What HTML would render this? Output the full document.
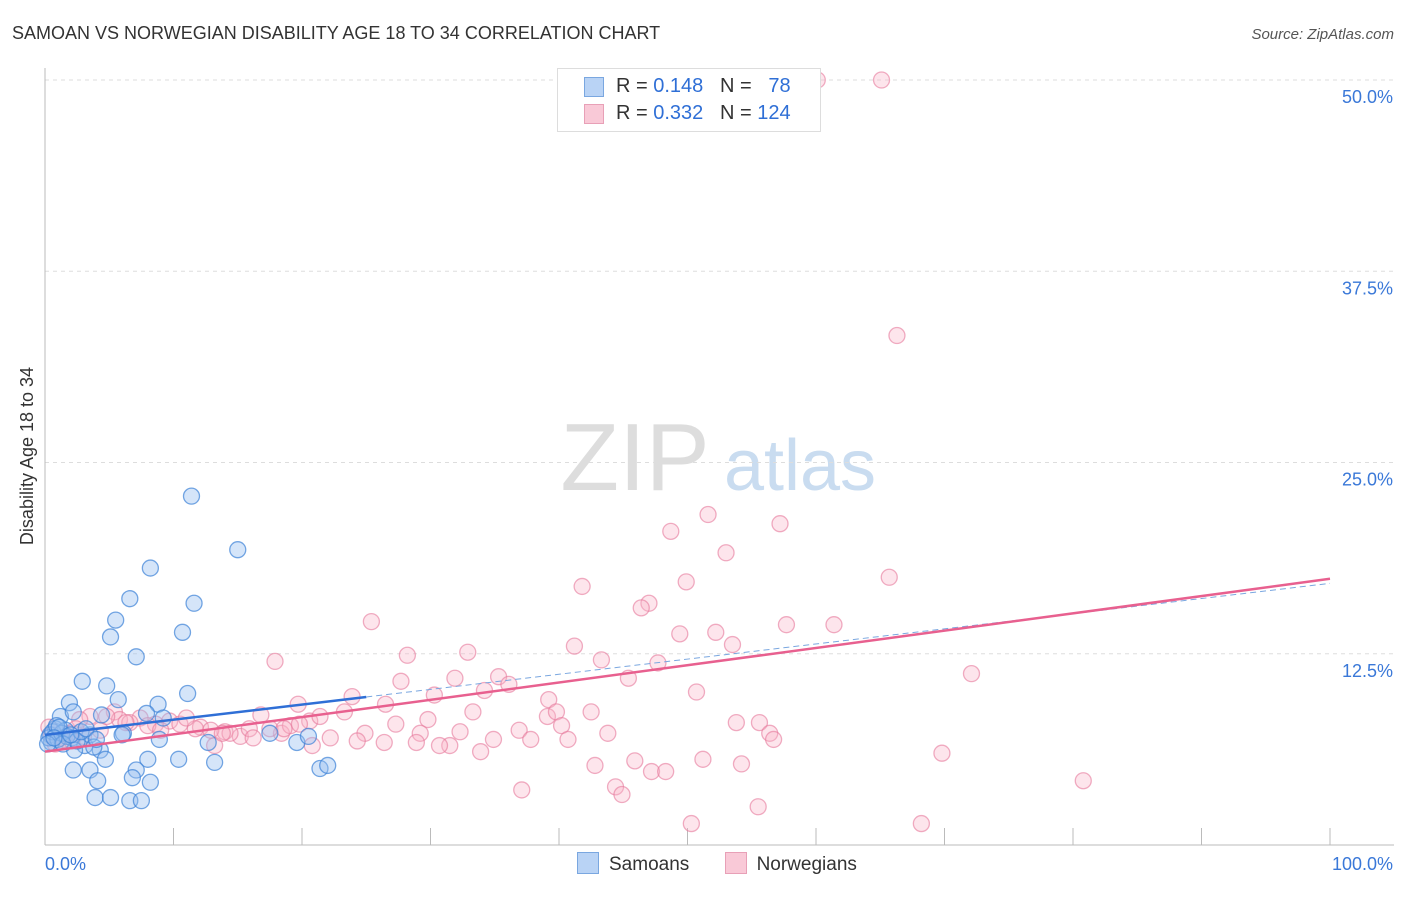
<!DOCTYPE html>
<html><head><meta charset="utf-8"><style>
body{margin:0;background:#fff;font-family:"Liberation Sans",sans-serif}
svg text{font-family:"Liberation Sans",sans-serif}
</style></head><body>
<svg id="c" width="1406" height="892" xmlns="http://www.w3.org/2000/svg"></svg>
<script>
const yTicks=[12.5,25,37.5,50];
const yTickLabels=["12.5%","25.0%","37.5%","50.0%"];
const samoanX=[11.4,15.0,8.2,6.6,11.6,5.5,5.1,10.7,7.1,2.9,4.8,11.1,1.9,5.7,8.8,1.2,2.2,4.4,7.9,9.2,6.1,8.9,12.7,17.5,19.6,20.5,0.8,0.4,0.5,1.6,2.1,3.1,3.5,4.3,2.3,4.7,8.0,10.4,13.2,2.2,3.5,4.1,7.1,6.8,8.2,21.4,22.0,3.9,5.1,6.6,7.5,0.3,0.6,1.0,1.3,1.7,2.5,2.8,0.2,0.9,1.4,3.8,3.2,4.0,6.0,1.1,2.0,0.7];
const samoanY=[22.8,19.3,18.1,16.1,15.8,14.7,13.6,13.9,12.3,10.7,10.4,9.9,9.3,9.5,9.2,8.4,8.7,8.5,8.6,8.3,7.3,6.9,6.7,7.3,6.7,7.1,7.6,7.2,6.7,7.5,7.0,6.5,7.2,6.2,6.2,5.6,5.6,5.6,5.4,4.9,4.9,4.2,4.9,4.4,4.1,5.0,5.2,3.1,3.1,2.9,2.9,7.0,7.4,6.9,7.3,7.1,6.8,7.4,6.6,7.8,6.6,6.4,7.6,6.9,7.2,7.7,7.2,7.0];
const norwX=[60.1,65.1,66.3,51.6,48.7,57.2,53.0,65.7,49.9,41.8,47.0,46.4,25.4,57.7,61.4,49.4,52.2,53.5,41.2,32.9,28.2,43.3,47.7,17.9,72.1,35.3,45.4,27.7,31.9,36.1,34.2,50.7,30.3,23.9,39.2,19.7,26.5,33.3,39.1,42.5,39.8,23.3,16.8,29.8,53.8,55.6,27.3,40.2,36.9,32.3,56.4,43.8,56.7,40.7,34.9,37.8,29.2,24.9,26.4,24.3,22.2,20.8,31.5,30.7,28.9,13.2,33.9,69.8,45.9,51.2,54.2,42.8,47.2,48.3,80.8,37.1,44.4,44.9,55.5,50.3,68.2,5.4,3.5,2.7,5.8,7.4,9.7,10.5,12.1,14.0,15.2,15.9,18.4,19.1,20.6,21.4,1.2,1.9,0.8,4.3,6.6,8.6,11.7,14.4,17.5,19.8,0.5,1.5,2.4,3.0,4.8,6.3,8.0,9.0,11.0,12.9,13.8,16.2,18.6,0.3,2.1];
const norwY=[50.0,50.0,33.3,21.6,20.5,21.0,19.1,17.5,17.2,16.9,15.8,15.5,14.6,14.4,14.4,13.8,13.9,13.1,13.0,12.6,12.4,12.1,11.9,12.0,11.2,11.0,10.9,10.7,10.9,10.5,10.1,10.0,9.8,9.7,9.5,9.2,9.2,8.7,8.4,8.7,8.7,8.7,8.5,8.2,8.0,8.0,7.9,7.8,7.5,7.4,7.3,7.3,6.9,6.9,6.9,6.9,7.3,7.3,6.7,6.8,7.0,6.5,6.5,6.5,6.7,6.5,6.1,6.0,5.5,5.6,5.3,5.2,4.8,4.8,4.2,3.6,3.8,3.3,2.5,1.4,1.4,8.7,8.4,8.2,8.2,8.3,8.1,7.9,7.7,7.4,7.1,7.6,7.3,7.8,8.1,8.4,7.0,7.3,6.6,7.5,8.0,7.9,7.6,7.3,7.6,7.9,7.2,6.9,7.6,7.1,8.4,8.0,7.8,7.5,8.3,7.5,7.3,7.0,7.6,7.7,6.8];
const blueFit=[7.2,17.1], pinkFit=[6.1,17.4];
const NS="http://www.w3.org/2000/svg", svg=document.getElementById('c');
const X=v=>45+v*12.85, Y=v=>845-v*15.3;
function el(t,a,p){const e=document.createElementNS(NS,t);for(const k in a)e.setAttribute(k,a[k]);(p||svg).appendChild(e);return e;}
let t=el('text',{x:12,y:39,'font-size':18,fill:'#333'});t.textContent='SAMOAN VS NORWEGIAN DISABILITY AGE 18 TO 34 CORRELATION CHART';


t=el('text',{x:1394,y:39,'font-size':15,fill:'#555','text-anchor':'end','font-style':'italic'});t.textContent='Source: ZipAtlas.com';


t=el('text',{x:635,y:490,'font-size':96,fill:'#ddd','text-anchor':'middle','font-family':'Liberation Serif'});t.textContent='ZIP';


t=el('text',{x:800,y:490,'font-size':72,fill:'#c9dcf0','text-anchor':'middle'});t.textContent='atlas';


yTicks.forEach((v,i)=>{let g=el('line',{x1:45,x2:1394,y1:Y(v),y2:Y(v),stroke:'#ddd','stroke-dasharray':'4,4'});


let l=el('text',{x:1393,y:Y(v)+23,'font-size':18,fill:'#3a78d8','text-anchor':'end'});l.textContent=yTickLabels[i];

});
let ax=el('line',{x1:45,x2:45,y1:68,y2:845,stroke:'#bbb'});


ax=el('line',{x1:45,x2:1394,y1:845,y2:845,stroke:'#bbb'});


for(let i=1;i<=10;i++){let k=el('line',{x1:X(i*10),x2:X(i*10),y1:828,y2:845,stroke:'#bbb'});

}
t=el('text',{x:45,y:870,'font-size':18,fill:'#3a78d8'});t.textContent='0.0%';


t=el('text',{x:1393,y:870,'font-size':18,fill:'#3a78d8','text-anchor':'end'});t.textContent='100.0%';


t=el('text',{x:0,y:0,'font-size':18,fill:'#333','text-anchor':'middle',transform:'translate(33,456) rotate(-90)'});t.textContent='Disability Age 18 to 34';


norwX.forEach((x,i)=>{let c=el('circle',{cx:X(x),cy:Y(norwY[i]),r:8,fill:'rgba(248,180,200,0.35)',stroke:'rgba(230,120,155,0.6)','stroke-width':1.3});

});
samoanX.forEach((x,i)=>{let c=el('circle',{cx:X(x),cy:Y(samoanY[i]),r:8,fill:'rgba(150,190,240,0.4)',stroke:'rgba(60,130,215,0.7)','stroke-width':1.3});

});
let f=el('line',{x1:X(25),y1:Y(blueFit[0]+(blueFit[1]-blueFit[0])*0.25),x2:X(100),y2:Y(blueFit[1]),stroke:'#7aa7e0','stroke-width':1,'stroke-dasharray':'6,4'});


f=el('line',{x1:X(0),y1:Y(pinkFit[0]),x2:X(100),y2:Y(pinkFit[1]),stroke:'#e8608f','stroke-width':2.5});


f=el('line',{x1:X(0),y1:Y(blueFit[0]),x2:X(25),y2:Y(blueFit[0]+(blueFit[1]-blueFit[0])*0.25),stroke:'#2f6fd6','stroke-width':2.5});


</script>
<div style="position:absolute;left:557px;top:68px;width:262px;height:62px;border:1px solid #ddd;background:#fff;font-size:20px;color:#333">
<div style="position:absolute;left:26px;top:8px;width:18px;height:18px;background:#b9d3f5;border:1px solid #7aa7e0"></div>
<div style="position:absolute;left:58px;top:6px">R = <span style="color:#2f6fd6">0.148</span>&nbsp;&nbsp; N = &nbsp;&nbsp;<span style="color:#2f6fd6">78</span></div>
<div style="position:absolute;left:26px;top:35px;width:18px;height:18px;background:#f9c9d7;border:1px solid #e8a0b7"></div>
<div style="position:absolute;left:58px;top:33px">R = <span style="color:#2f6fd6">0.332</span>&nbsp;&nbsp; N = <span style="color:#2f6fd6">124</span></div>
</div>
<div style="position:absolute;left:577px;top:852px;font-size:19px;color:#333">
<span><span style="display:inline-block;width:20px;height:20px;background:#b9d3f5;border:1px solid #7aa7e0;vertical-align:-4px;margin-right:10px"></span>Samoans</span>
<span style="margin-left:30px"><span style="display:inline-block;width:20px;height:20px;background:#f9c9d7;border:1px solid #e8a0b7;vertical-align:-4px;margin-right:10px"></span>Norwegians</span>
</div>
</body></html>
